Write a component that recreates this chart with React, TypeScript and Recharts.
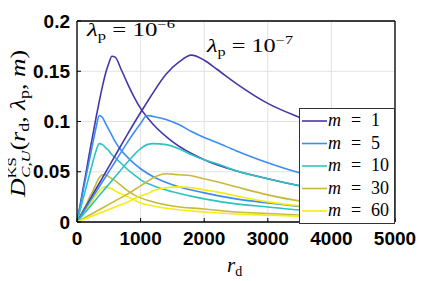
import { LineChart, Line, XAxis, YAxis, CartesianGrid, Legend } from 'recharts';

const M_VALUES = [1, 5, 10, 30, 60];
const COLORS = ['#4637a5', '#3c8cf5', '#2dc3be', '#c8b93c', '#f5ec14'];

const X_TICKS = [0, 1000, 2000, 3000, 4000, 5000];
const Y_TICKS = [0, 0.05, 0.1, 0.15, 0.2];

// lambda_p = 1e-6
const R_E6 = [0, 50, 100, 150, 200, 250, 300, 350, 400, 450, 500, 550, 600, 700, 800, 900, 1000, 1200, 1500, 2000, 2500, 3000, 3500, 4000, 4500, 5000];
const D_E6_M1 = [0, 0.017, 0.035, 0.052, 0.07, 0.087, 0.104, 0.12, 0.135, 0.148, 0.158, 0.165, 0.164, 0.151, 0.137, 0.124, 0.113, 0.097, 0.08, 0.062, 0.051, 0.043, 0.036, 0.031, 0.027, 0.024];
const D_E6_M5 = [0, 0.016, 0.032, 0.048, 0.063, 0.079, 0.094, 0.106, 0.104, 0.098, 0.092, 0.086, 0.08, 0.071, 0.064, 0.058, 0.053, 0.045, 0.037, 0.029, 0.023, 0.019, 0.0155, 0.0135, 0.012, 0.011];
const D_E6_M10 = [0, 0.012, 0.024, 0.036, 0.048, 0.06, 0.071, 0.078, 0.077, 0.074, 0.071, 0.067, 0.064, 0.058, 0.052, 0.047, 0.042, 0.036, 0.03, 0.023, 0.018, 0.015, 0.012, 0.0105, 0.0095, 0.0085];
const D_E6_M30 = [0, 0.006, 0.012, 0.018, 0.025, 0.031, 0.038, 0.044, 0.047, 0.047, 0.045, 0.043, 0.041, 0.036, 0.031, 0.027, 0.024, 0.02, 0.016, 0.013, 0.01, 0.0085, 0.007, 0.006, 0.0055, 0.005];
const D_E6_M60 = [0, 0.004, 0.008, 0.013, 0.017, 0.022, 0.027, 0.031, 0.034, 0.035, 0.034, 0.033, 0.031, 0.028, 0.025, 0.022, 0.019, 0.016, 0.013, 0.01, 0.008, 0.0068, 0.0058, 0.005, 0.0045, 0.004];

// lambda_p = 1e-7
const R_E7 = [0, 200, 400, 600, 800, 1000, 1100, 1200, 1400, 1600, 1800, 2000, 2200, 2500, 3000, 3500, 4000, 4500, 5000];
const D_E7_M1 = [0, 0.022, 0.044, 0.066, 0.088, 0.109, 0.119, 0.129, 0.147, 0.159, 0.166, 0.161, 0.152, 0.138, 0.118, 0.104, 0.092, 0.083, 0.076];
const D_E7_M5 = [0, 0.02, 0.04, 0.06, 0.08, 0.098, 0.106, 0.105, 0.102, 0.097, 0.09, 0.084, 0.079, 0.071, 0.059, 0.049, 0.042, 0.036, 0.031];
const D_E7_M10 = [0, 0.015, 0.03, 0.045, 0.06, 0.073, 0.077, 0.078, 0.077, 0.073, 0.067, 0.062, 0.058, 0.051, 0.043, 0.036, 0.031, 0.028, 0.025];
const D_E7_M30 = [0, 0.007, 0.014, 0.021, 0.028, 0.036, 0.04, 0.044, 0.048, 0.047, 0.046, 0.043, 0.04, 0.035, 0.027, 0.021, 0.018, 0.016, 0.014];
const D_E7_M60 = [0, 0.005, 0.01, 0.015, 0.02, 0.026, 0.028, 0.031, 0.034, 0.035, 0.034, 0.032, 0.03, 0.026, 0.02, 0.016, 0.014, 0.012, 0.011];

const SERIES_E6 = [D_E6_M1, D_E6_M5, D_E6_M10, D_E6_M30, D_E6_M60];
const SERIES_E7 = [D_E7_M1, D_E7_M5, D_E7_M10, D_E7_M30, D_E7_M60];

const toPoints = (r: number[], d: number[]) => r.map((x, i) => ({ r: x, d: d[i] }));

const SERIF = '"Liberation Serif", "DejaVu Serif", serif';
const TICK_FONT = { fill: '#000', fontSize: 19, fontWeight: 700, fontFamily: '"Liberation Sans", Arial, sans-serif' };

function LegendBox() {
  return (
    <div style={{ width: 96, height: 116, boxSizing: 'border-box', border: '1px solid #333', background: '#fff' }}>
      <svg width={94} height={114} style={{ display: 'block' }}>
        {M_VALUES.map((m, i) => {
          const cy = 12 + i * 22.5;
          return (
            <g key={m} fontFamily={SERIF} fontSize={18} fill="#000">
              <line x1={2} y1={cy} x2={27} y2={cy} stroke={COLORS[i]} strokeWidth={1.6} />
              <text x={28} y={cy + 5} fontStyle="italic">m</text>
              <text x={51} y={cy + 5}>=</text>
              <text x={71} y={cy + 5}>{m}</text>
            </g>
          );
        })}
      </svg>
    </div>
  );
}

export default function App() {
  return (
    <div style={{ position: 'relative', width: 428, height: 273 }}>
      <LineChart width={428} height={273} margin={{ top: 12, right: 40, bottom: 28, left: 0 }}>
        <CartesianGrid stroke="#e2e2e2" strokeWidth={1} />
        <XAxis
          dataKey="r"
          type="number"
          domain={[0, 5000]}
          ticks={X_TICKS}
          interval={0}
          allowDataOverflow
          height={31}
          tickSize={-4}
          tickMargin={14}
          axisLine={{ stroke: '#000', strokeWidth: 1.3 }}
          tickLine={{ stroke: '#000' }}
          tick={TICK_FONT}
        />
        <XAxis
          xAxisId="top"
          orientation="top"
          type="number"
          domain={[0, 5000]}
          ticks={X_TICKS}
          interval={0}
          height={1}
          tickSize={-4}
          tickFormatter={() => ''}
          axisLine={{ stroke: '#000', strokeWidth: 1.3 }}
          tickLine={{ stroke: '#000' }}
        />
        <YAxis
          type="number"
          domain={[0, 0.2]}
          ticks={Y_TICKS}
          interval={0}
          allowDataOverflow
          width={69}
          tickSize={-4}
          tickMargin={11}
          axisLine={{ stroke: '#000', strokeWidth: 1.3 }}
          tickLine={{ stroke: '#000' }}
          tick={TICK_FONT}
        />
        <YAxis
          yAxisId="right"
          orientation="right"
          type="number"
          domain={[0, 0.2]}
          ticks={Y_TICKS}
          interval={0}
          width={1}
          tickSize={-4}
          tickFormatter={() => ''}
          axisLine={{ stroke: '#000', strokeWidth: 1.3 }}
          tickLine={{ stroke: '#000' }}
        />
        {SERIES_E6.map((d, i) => (
          <Line
            key={'e6-' + i}
            data={toPoints(R_E6, d)}
            dataKey="d"
            type="monotone"
            stroke={COLORS[i]}
            strokeWidth={1.6}
            dot={false}
            isAnimationActive={false}
          />
        ))}
        {SERIES_E7.map((d, i) => (
          <Line
            key={'e7-' + i}
            data={toPoints(R_E7, d)}
            dataKey="d"
            type="monotone"
            stroke={COLORS[i]}
            strokeWidth={1.6}
            dot={false}
            isAnimationActive={false}
          />
        ))}
        <Legend
          layout="vertical"
          align="center"
          verticalAlign="middle"
          wrapperStyle={{ left: 291, top: 100, width: 96 }}
          content={() => <LegendBox />}
        />
      </LineChart>
      {/* annotation layer in page coordinates */}
      <svg width={436} height={281} style={{ position: 'absolute', left: -8, top: -8, pointerEvents: 'none', overflow: 'visible' }}>
        <text x={87} y={36} fontFamily={SERIF} fontSize={18} fill="#000" textLength={88} lengthAdjust="spacingAndGlyphs">
          <tspan fontStyle="italic">λ</tspan>
          <tspan fontSize={12} dy={4}>p</tspan>
          <tspan dy={-4}> = 10</tspan>
          <tspan fontSize={12} dy={-8}>−6</tspan>
        </text>
        <text x={207} y={52} fontFamily={SERIF} fontSize={18} fill="#000" textLength={86} lengthAdjust="spacingAndGlyphs">
          <tspan fontStyle="italic">λ</tspan>
          <tspan fontSize={12} dy={4}>p</tspan>
          <tspan dy={-4}> = 10</tspan>
          <tspan fontSize={12} dy={-8}>−7</tspan>
        </text>
        <text x={227} y={272} fontFamily={SERIF} fontSize={21} fill="#000">
          <tspan fontStyle="italic">r</tspan>
          <tspan fontSize={14} dy={4}>d</tspan>
        </text>
        <text transform="translate(25, 197) rotate(-90)" fontFamily={SERIF} fontSize={20} fill="#000" textLength={147} lengthAdjust="spacingAndGlyphs">
          <tspan fontStyle="italic">D</tspan>
          <tspan fontSize={13} dy={-9}>KS</tspan>
          <tspan fontSize={13} fontStyle="italic" dx={-16} dy={14}>C,U</tspan>
          <tspan dy={-5}>(</tspan>
          <tspan fontStyle="italic">r</tspan>
          <tspan fontSize={14} dy={4}>d</tspan>
          <tspan dy={-4}>, </tspan>
          <tspan fontStyle="italic">λ</tspan>
          <tspan fontSize={14} dy={4}>p</tspan>
          <tspan dy={-4}>, </tspan>
          <tspan fontStyle="italic">m</tspan>
          <tspan>)</tspan>
        </text>
      </svg>
    </div>
  );
}
